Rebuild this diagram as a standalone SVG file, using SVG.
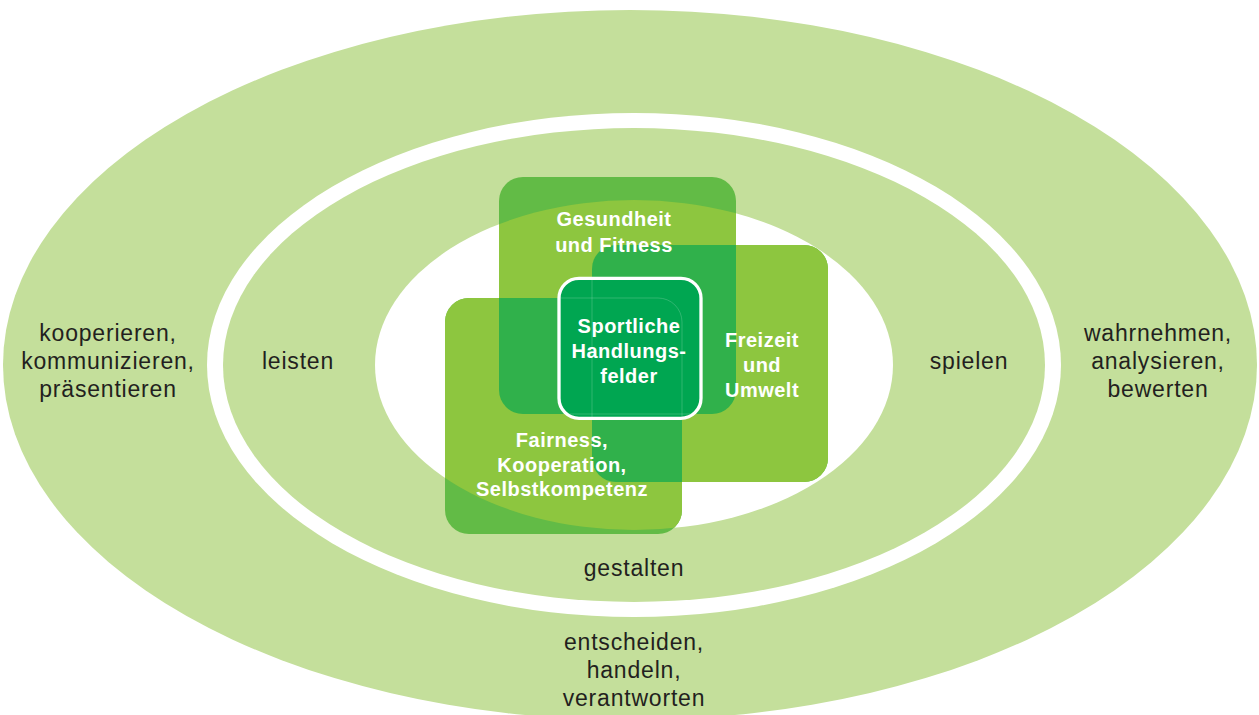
<svg xmlns="http://www.w3.org/2000/svg" xmlns:xlink="http://www.w3.org/1999/xlink" width="1259" height="715" viewBox="0 0 1259 715">
  <style>
    .ring { fill: #c4df9b; }
    .gap { fill: #ffffff; }
    .dark { fill: #62bb46; }
    .lime { fill: #8dc63f; }
    .ovl { fill: #30b14b; }
    .center { fill: #00a651; stroke: #ffffff; stroke-width: 3.3; }
    .faint { fill: none; stroke: #ffffff; stroke-opacity: 0.18; stroke-width: 1; }
    .lbl { font-family: "Liberation Sans", Arial, sans-serif; font-size: 23px; letter-spacing: 0.8px; fill: #231f20; text-anchor: middle; }
    .wt { font-family: "Liberation Sans", Arial, sans-serif; font-weight: bold; font-size: 20px; letter-spacing: 0.5px; fill: #ffffff; text-anchor: middle; }
  </style>
  <defs>
    <rect id="sqTop" x="499" y="177" width="237" height="237" rx="24"/>
    <rect id="sqRight" x="592" y="245" width="236" height="237" rx="24"/>
    <rect id="sqLeft" x="445" y="298" width="237" height="236" rx="24"/>
    <clipPath id="cpInner"><ellipse cx="634" cy="365" rx="259" ry="165"/></clipPath>
    <clipPath id="cpTop"><use xlink:href="#sqTop"/></clipPath>
    <clipPath id="cpRight"><use xlink:href="#sqRight"/></clipPath>
    <clipPath id="cpLeft"><use xlink:href="#sqLeft"/></clipPath>
    <clipPath id="cpCenter"><rect x="559" y="278.3" width="142" height="140" rx="20"/></clipPath>
  </defs>

  <rect x="0" y="0" width="1259" height="715" fill="#ffffff"/>

  <g id="rings">
    <ellipse class="ring" cx="630" cy="365" rx="627" ry="355"/>
    <ellipse class="gap" cx="634" cy="365" rx="427" ry="252"/>
    <ellipse class="ring" cx="634" cy="365" rx="411" ry="237"/>
    <ellipse class="gap" cx="634" cy="365" rx="259" ry="165"/>
  </g>

  <g id="node-gesundheit">
    <use xlink:href="#sqTop" class="dark"/>
    <use xlink:href="#sqTop" class="lime" clip-path="url(#cpInner)"/>
  </g>
  <g id="node-freizeit">
    <use xlink:href="#sqRight" class="dark"/>
    <use xlink:href="#sqRight" class="lime" clip-path="url(#cpInner)"/>
  </g>
  <g id="node-fairness">
    <use xlink:href="#sqLeft" class="dark"/>
    <use xlink:href="#sqLeft" class="lime" clip-path="url(#cpInner)"/>
  </g>

  <g id="overlaps">
    <g clip-path="url(#cpTop)"><use xlink:href="#sqRight" class="ovl"/></g>
    <g clip-path="url(#cpTop)"><use xlink:href="#sqLeft" class="ovl"/></g>
    <g clip-path="url(#cpRight)"><use xlink:href="#sqLeft" class="ovl"/></g>
  </g>

  <g id="node-sportliche">
    <rect class="center" x="559" y="278.3" width="142" height="140" rx="20"/>
    <g clip-path="url(#cpCenter)">
      <use xlink:href="#sqTop" class="faint"/>
      <use xlink:href="#sqRight" class="faint"/>
      <use xlink:href="#sqLeft" class="faint"/>
    </g>
  </g>

  <g id="connectors"></g>

  <g id="labels-squares">
    <text class="wt" x="614" y="226">Gesundheit</text>
    <text class="wt" x="614" y="252">und Fitness</text>
    <text class="wt" x="629" y="333">Sportliche</text>
    <text class="wt" x="629" y="358">Handlungs-</text>
    <text class="wt" x="629" y="383">felder</text>
    <text class="wt" x="762" y="347">Freizeit</text>
    <text class="wt" x="762" y="372">und</text>
    <text class="wt" x="762" y="397">Umwelt</text>
    <text class="wt" x="562" y="447">Fairness,</text>
    <text class="wt" x="562" y="472">Kooperation,</text>
    <text class="wt" x="562" y="496">Selbstkompetenz</text>
  </g>

  <g id="labels-rings">
    <text class="lbl" x="298" y="369">leisten</text>
    <text class="lbl" x="969" y="369">spielen</text>
    <text class="lbl" x="634" y="576">gestalten</text>
    <text class="lbl" x="108" y="341">kooperieren,</text>
    <text class="lbl" x="108" y="369">kommunizieren,</text>
    <text class="lbl" x="108" y="397">präsentieren</text>
    <text class="lbl" x="1158" y="341">wahrnehmen,</text>
    <text class="lbl" x="1158" y="369">analysieren,</text>
    <text class="lbl" x="1158" y="397">bewerten</text>
    <text class="lbl" x="634" y="650">entscheiden,</text>
    <text class="lbl" x="634" y="678">handeln,</text>
    <text class="lbl" x="634" y="706">verantworten</text>
  </g>
</svg>
